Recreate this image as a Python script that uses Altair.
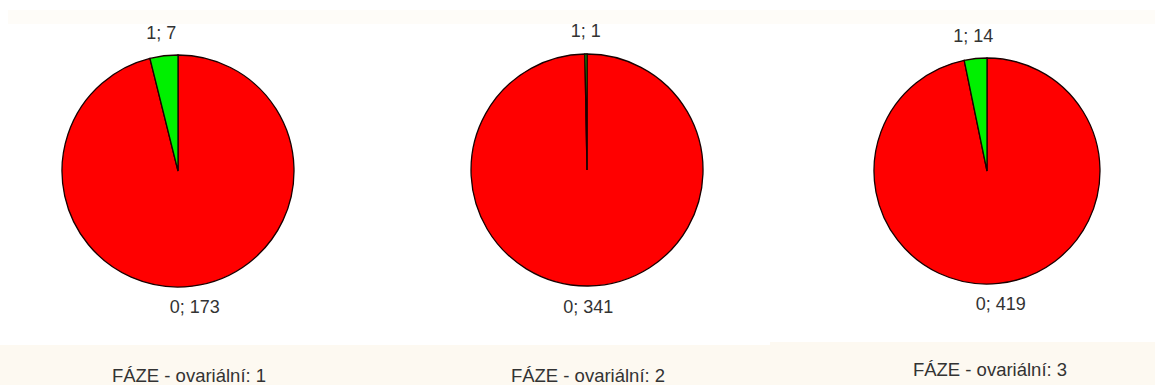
import altair as alt
import pandas as pd

phases = [1, 2, 3]
categories = ["0", "1"]
counts_0 = [173, 341, 419]
counts_1 = [7, 1, 14]
titles = ["FÁZE - ovariální: 1", "FÁZE - ovariální: 2", "FÁZE - ovariální: 3"]

# layout (styling only)
PANEL_W = 385
H = 385
centers_x = [178, 202, 217]
centers_y = [171, 170, 171]
radii = [116, 116, 113]
title_x = [189, 203, 220]
title_y = [376, 376, 370]
band_top = [345, 345, 342]

FONT = "Liberation Sans"
BAND = "#fdf9f1"


def panel(i):
    df = pd.DataFrame({
        "cat": categories,
        "count": [counts_0[i], counts_1[i]],
    })
    df["label"] = df["cat"] + "; " + df["count"].astype(str)
    cx, cy, r = centers_x[i], centers_y[i], radii[i]

    band_bottom = alt.Chart(pd.DataFrame({"a": [0]})).mark_rect(color=BAND).encode(
        x=alt.value(0), x2=alt.value(PANEL_W),
        y=alt.value(band_top[i]), y2=alt.value(H),
    )
    band_top_rect = alt.Chart(pd.DataFrame({"a": [0]})).mark_rect(color=BAND, opacity=0.5).encode(
        x=alt.value(8 if i == 0 else 0), x2=alt.value(PANEL_W),
        y=alt.value(10), y2=alt.value(24),
    )

    base = alt.Chart(df).encode(
        theta=alt.Theta("count:Q", stack=True),
        order=alt.Order("cat:N", sort="ascending"),
    )
    arc = base.mark_arc(outerRadius=r, stroke="#1a0000", strokeWidth=1.3).encode(
        color=alt.Color("cat:N", scale=alt.Scale(domain=categories, range=["#ff0000", "#00f000"]), legend=None),
        x=alt.value(cx), y=alt.value(cy),
    )
    labels = base.mark_text(radius=r + 22, fontSize=18, font=FONT, color="#333333").encode(
        text="label:N", x=alt.value(cx), y=alt.value(cy),
    )
    title = alt.Chart(pd.DataFrame({"t": [titles[i]]})).mark_text(
        fontSize=18.5, font=FONT, color="#333333", align="center", baseline="middle"
    ).encode(text="t:N", x=alt.value(title_x[i]), y=alt.value(title_y[i]))

    return alt.layer(band_top_rect, band_bottom, arc, labels, title).properties(
        width=PANEL_W, height=H
    )


chart = alt.hconcat(*[panel(i) for i in range(len(phases))], spacing=0).properties(
    padding=0, background="white"
).configure_view(stroke=None).configure_concat(spacing=0)

chart.save("out.html", embed_options={"renderer": "svg", "actions": False})
